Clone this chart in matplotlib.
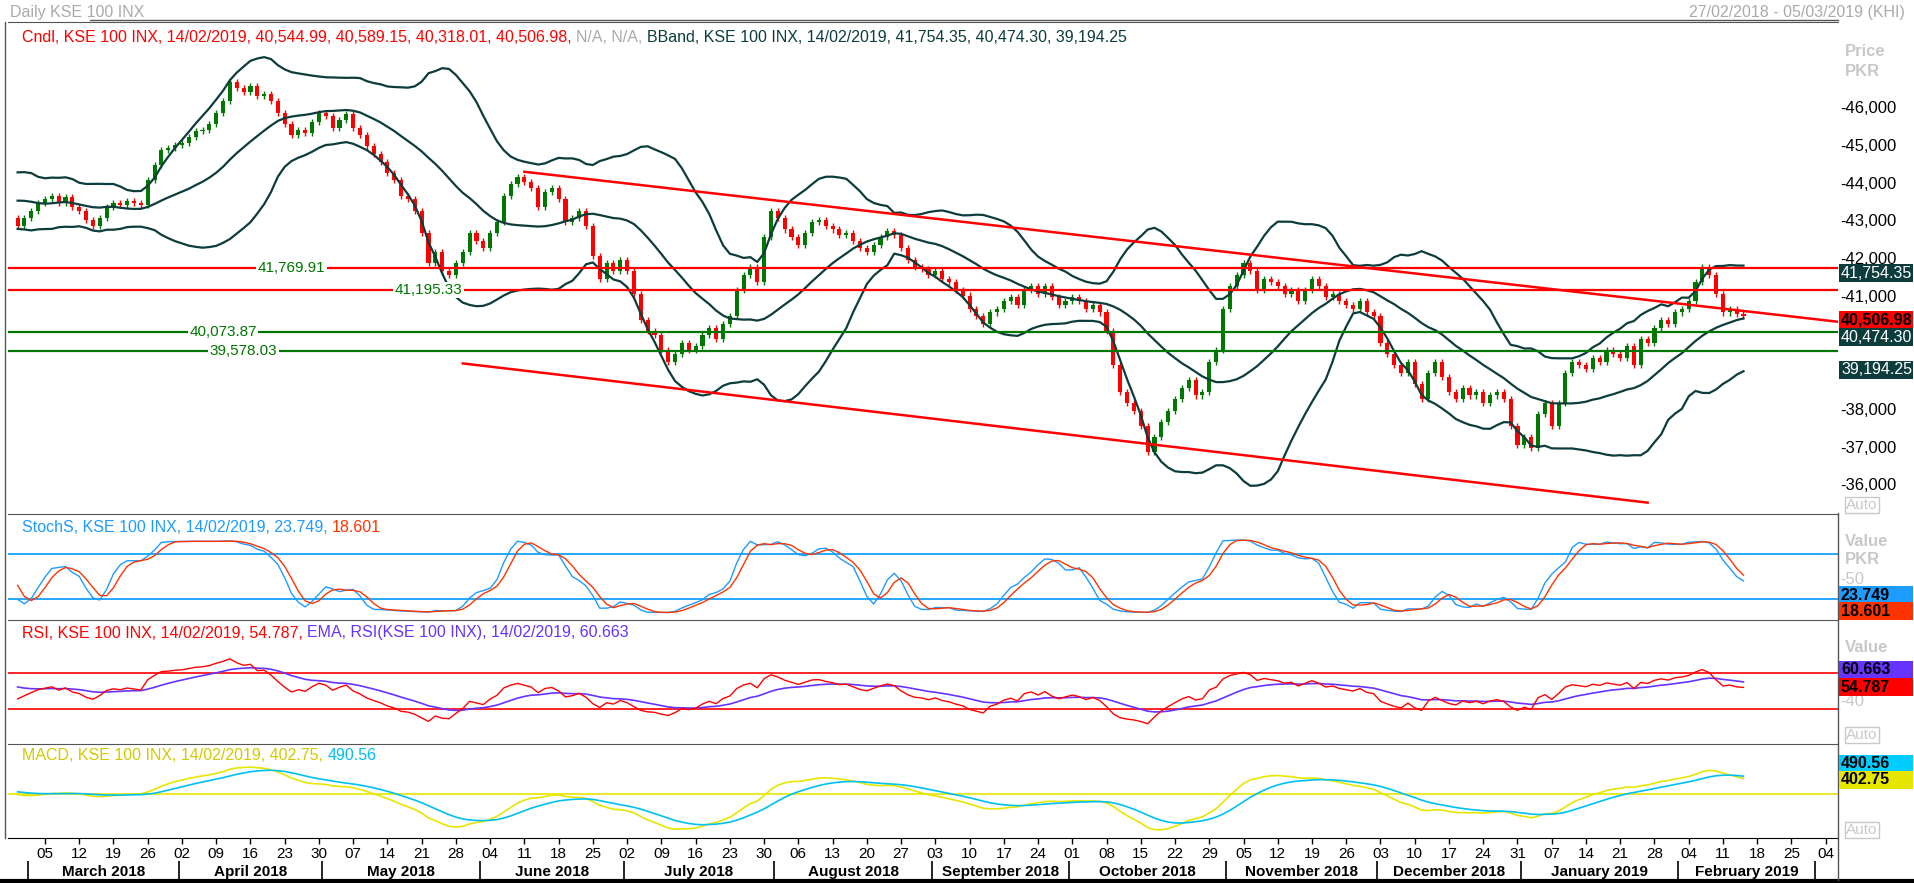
import matplotlib
matplotlib.use("Agg")
import matplotlib.pyplot as plt
import numpy as np
import pandas as pd

W, H = 1915, 883

# daily closes before the visible range (only feed the indicators)
pre_close = [43200, 43800, 44200, 43900, 43500, 43100, 43400, 43900, 44100, 43800,
             43600, 43300, 43000, 43500, 43900, 44000, 43700, 43400, 43100]

# daily closes, 27/02/2018 .. 14/02/2019 (business days)
close = [
    42900, 43100, 43300, 43500,
    43600, 43700, 43500, 43650, 43400,
    43300, 43050, 42900, 43100, 43400,
    43500, 43450, 43550, 43500, 43450,
    44100, 44500, 44900, 44950, 45050,
    45100, 45250, 45400, 45450, 45600,
    45900, 46200, 46700, 46550, 46450,
    46600, 46350, 46400, 46200, 45900,
    45600, 45300, 45450, 45350, 45650,
    45900, 45800, 45500, 45700, 45850,
    45500, 45300, 45000, 44800, 44600,
    44300, 44100, 43700, 43600, 43300,
    42700, 41900, 42200, 41700, 41600,
    41900, 42200, 42700, 42500, 42300,
    42700, 43000, 43700, 44000, 44200,
    44050, 43900, 43400, 43800, 43900,
    43600, 43000, 43100, 43300, 42900,
    42100, 41500, 41900, 41700, 42000,
    41700, 41100, 40400, 40100, 40000,
    39600, 39300, 39500, 39800, 39600,
    39700, 40000, 40200, 39900, 40300,
    40500, 41200, 41600, 41800, 41400,
    42600, 43300, 43100, 42800, 42600,
    42400, 42700, 43000, 43050, 42900,
    42800, 42650, 42700, 42500, 42300,
    42200, 42400, 42600, 42750, 42650,
    42300, 42000, 41800, 41750, 41600,
    41700, 41500, 41400, 41200, 41050,
    40700, 40500, 40300, 40600, 40700,
    40900, 41000, 40800, 41200, 41300,
    41100, 41300, 41000, 40800, 40900,
    41000, 40900, 40700, 40800, 40600,
    40100, 39200, 38500, 38200, 38000,
    37600, 36900, 37300, 37700, 38000,
    38300, 38600, 38800, 38400, 38500,
    39300, 39600, 40700, 41300, 41600,
    41900, 41700, 41200, 41500, 41400,
    41300, 41100, 41200, 40900, 41200,
    41500, 41300, 41000, 41100, 40900,
    40800, 40700, 40900, 40600, 40500,
    39800, 39500, 39200, 39000, 39300,
    38700, 38300, 39000, 39300, 38900,
    38500, 38300, 38600, 38400, 38500,
    38200, 38400, 38500, 38300, 37600,
    37100, 37300, 37000, 37900, 38200,
    37600, 38200, 39000, 39300, 39200,
    39100, 39400, 39300, 39600, 39500,
    39400, 39700, 39200, 39900, 39800,
    40200, 40400, 40300, 40600, 40700,
    40900, 41400, 41800, 41600, 41100,
    40600, 40700, 40550, 40507,
]

hlines_red = [41769.91, 41195.33]
hlines_green = [40073.87, 39578.03]
trend_upper = [(74, 44330), (266, 40350)]
trend_lower = [(65, 39250), (238, 35560)]

# ---- derived series ----
allc = np.array(pre_close + close, dtype=float)
allo = np.r_[allc[0], allc[:-1]]
wick = 80
allh = np.maximum(allo, allc) + wick
alll = np.minimum(allo, allc) - wick
s = pd.Series(allc)
mid = s.rolling(20).mean()
sd = s.rolling(20).std(ddof=0)
up, lo = mid + 2 * sd, mid - 2 * sd
hh = pd.Series(allh).rolling(14, min_periods=1).max()
ll = pd.Series(alll).rolling(14, min_periods=1).min()
kraw = (s - ll) / (hh - ll) * 100
k = kraw.rolling(3, min_periods=1).mean()
d = k.rolling(3, min_periods=1).mean()
delta = s.diff().fillna(0)
gain = delta.clip(lower=0).ewm(alpha=1 / 14, adjust=False).mean()
loss = (-delta.clip(upper=0)).ewm(alpha=1 / 14, adjust=False).mean()
rsi = 100 - 100 / (1 + gain / loss)
rsi_ema = rsi.ewm(span=14, adjust=False).mean()
macd = s.ewm(span=12, adjust=False).mean() - s.ewm(span=26, adjust=False).mean()
sig = macd.ewm(span=9, adjust=False).mean()

n0 = len(pre_close)
n = len(close)
x = np.arange(n)
sl = slice(n0, n0 + n)
o, c, h, l = allo[sl], allc[sl], allh[sl], alll[sl]

dates = pd.bdate_range("2018-02-27", periods=268)
XL = (-1.4, 265.8)

fig = plt.figure(figsize=(W / 100, H / 100), dpi=100)
plt.rcParams["font.family"] = "Liberation Sans"


def axpx(x0, y0, x1, y1):
    return fig.add_axes([x0 / W, 1 - y1 / H, (x1 - x0) / W, (y1 - y0) / H])


def clean(ax):
    for sp in ax.spines.values():
        sp.set_visible(False)
    ax.spines["top"].set_visible(True)
    ax.spines["top"].set_color("#555555")
    ax.set_xticks([])
    ax.set_yticks([])
    ax.set_xlim(*XL)


LX = 8
RX = 1838
ax = axpx(LX, 22, RX, 513)
clean(ax)
ax.set_ylim(35285, 48300)
green, red = "#007700", "#ff0000"
for i in x:
    col = green if c[i] >= o[i] else red
    ax.vlines(i, l[i], h[i], color=col, lw=1)
    ax.bar(i, max(abs(c[i] - o[i]), 25), bottom=min(o[i], c[i]), width=0.6, color=col, lw=0)
bb = "#0d3c3c"
for ser in (up, mid, lo):
    ax.plot(x, ser.values[sl], color=bb, lw=1.6)
for v in hlines_red:
    ax.axhline(v, color=red, lw=1.6)
for v in hlines_green:
    ax.axhline(v, color=green, lw=1.6)
for t in (trend_upper, trend_lower):
    ax.plot([t[0][0], t[1][0]], [t[0][1], t[1][1]], color=red, lw=1.8)
for v, xp in zip(hlines_red + hlines_green, [40, 60, 30, 33]):
    ax.text(xp, v, f"{v:,.2f}", color=green, fontsize=11, ha="center", va="center",
            bbox=dict(fc="white", ec="none", pad=1))

# stochastic
ax2 = axpx(LX, 514, RX, 620)
clean(ax2)
ax2.set_ylim(-8, 133)
ax2.axhline(80, color="#0099ff", lw=1.2)
ax2.axhline(20, color="#0099ff", lw=1.2)
ax2.plot(x, k.values[sl], color="#1e9bff", lw=1)
ax2.plot(x, d.values[sl], color="#ff3300", lw=1)

# RSI
ax3 = axpx(LX, 620, RX, 744)
clean(ax3)
ax3.set_ylim(-9, 129)
ax3.axhline(70, color=red, lw=1.2)
ax3.axhline(30, color=red, lw=1.2)
ax3.plot(x, rsi_ema.values[sl], color="#6633ff", lw=1.2)
ax3.plot(x, rsi.values[sl], color=red, lw=1)

# MACD
ax4 = axpx(LX, 744, RX, 838)
clean(ax4)
ax4.set_ylim(-1260, 1430)
ax4.axhline(0, color="#e6e600", lw=1.2)
ax4.plot(x, macd.values[sl], color="#e6e600", lw=1.2)
ax4.plot(x, sig.values[sl], color="#00c0f0", lw=1.2)

# date axis
ax5 = axpx(LX, 838, RX, 880)
for sp in ax5.spines.values():
    sp.set_visible(False)
ax5.spines["top"].set_visible(True)
ax5.set_xlim(*XL)
ax5.set_ylim(0, 1)
ax5.set_xticks([])
ax5.set_yticks([])
for i, dt in enumerate(dates):
    if dt.weekday() == 0 and XL[0] < i < XL[1] - 1:
        ax5.vlines(i, 0.85, 1, color="black", lw=1)
        ax5.text(i, 0.62, dt.strftime("%d"), ha="center", va="center", fontsize=11)
months = pd.Series(range(len(dates)), index=dates).groupby(dates.to_period("M"))
for per, idx in months:
    a, b = idx.values[0], idx.values[-1]
    if per.month == 2 and per.year == 2018:
        continue
    ax5.vlines(a - 0.5, 0, 0.45, color="black", lw=1.2)
    if per.year == 2019 and per.month == 3:
        continue
    ax5.text((a + b) / 2, 0.2, per.strftime("%B %Y"), ha="center", va="center",
             fontsize=11, fontweight="bold")
fig.add_artist(plt.Line2D([0, 1], [1 - 881 / H] * 2, color="black", lw=3))
fig.add_artist(plt.Line2D([RX / W] * 2, [1 - 513 / H, 1 - 880 / H], color="#555555", lw=1))
fig.add_artist(plt.Line2D([5 / W] * 2, [1 - 22 / H, 1 - 838 / H], color="#555555", lw=1))
fig.add_artist(plt.Line2D([90 / W, RX / W], [1 - 20 / H] * 2, color="#555555", lw=1))

# header / legends
fs = 11.5
fig.text(10 / W, 1 - 12 / H, "Daily KSE 100 INX", color="#aaaaaa", fontsize=fs, va="center")
fig.text(1905 / W, 1 - 12 / H, "27/02/2018 - 05/03/2019 (KHI)", color="#aaaaaa", fontsize=fs,
         va="center", ha="right")
renderer = fig.canvas.get_renderer()


def ctext(x0, y0, parts):
    xx = x0
    for txt, col in parts:
        t = fig.text(xx / W, 1 - y0 / H, txt, color=col, fontsize=fs, va="center")
        xx += t.get_window_extent(renderer).width


ctext(22, 37, [("Cndl, KSE 100 INX, 14/02/2019, 40,544.99, 40,589.15, 40,318.01, 40,506.98, ", red),
               ("N/A, N/A, ", "#aaaaaa"),
               ("BBand, KSE 100 INX, 14/02/2019, 41,754.35, 40,474.30, 39,194.25", bb)])
ctext(22, 528, [("StochS, KSE 100 INX, 14/02/2019, 23.749, ", "#1e9bff"), ("18.601", "#ff3300")])
ctext(22, 633, [("RSI, KSE 100 INX, 14/02/2019, 54.787, ", red),
                ("EMA, RSI(KSE 100 INX), 14/02/2019, 60.663", "#6633ff")])
ctext(22, 756, [("MACD, KSE 100 INX, 14/02/2019, 402.75, ", "#d4c800"), ("490.56", "#00c0f0")])

# right axis labels
for j, v in enumerate(range(46000, 35000, -1000)):
    yp = 108.7 + j * 37.73
    fig.text(1840 / W, 1 - yp / H, f"-{v:,}", fontsize=12, va="center")
for yp, txt in [(52, "Price"), (72, "PKR"), (541, "Value"), (560, "PKR"), (647, "Value")]:
    fig.text(1845 / W, 1 - yp / H, txt, fontsize=12, color="#c8c8c8", va="center", fontweight="bold")
fig.text(1840 / W, 1 - 579 / H, "-50", fontsize=12, color="#c8c8c8", va="center")
fig.text(1840 / W, 1 - 701 / H, "-40", fontsize=12, color="#c8c8c8", va="center")
for yp in (505, 735, 830):
    fig.text(1846 / W, 1 - yp / H, "Auto", fontsize=11, color="#c8c8c8", va="center",
             bbox=dict(fc="white", ec="#c8c8c8", pad=1))
boxes = [(273, "41,754.35", bb, "white"), (320, "40,506.98", red, "black"),
         (337, "40,474.30", bb, "white"), (370, "39,194.25", bb, "white"),
         (595, "23.749", "#1e9bff", "black"), (611, "18.601", "#ff3300", "black"),
         (670, "60.663", "#6633ff", "black"), (687, "54.787", red, "black"),
         (764, "490.56", "#00ccff", "black"), (780, "402.75", "#e6e600", "black")]
for yp, txt, bg, fg in boxes:
    t = fig.text(1841 / W, 1 - yp / H, txt, fontsize=11.5, color=fg, va="center", zorder=5,
                 fontweight="bold" if fg == "black" else "normal")
    wpx = t.get_window_extent(renderer).width
    fig.add_artist(plt.Rectangle((1839 / W, 1 - (yp + 9) / H), 74 / W, 18 / H,
                                 fc=bg, ec="none", zorder=4))

fig.savefig("out.png", dpi=100)
